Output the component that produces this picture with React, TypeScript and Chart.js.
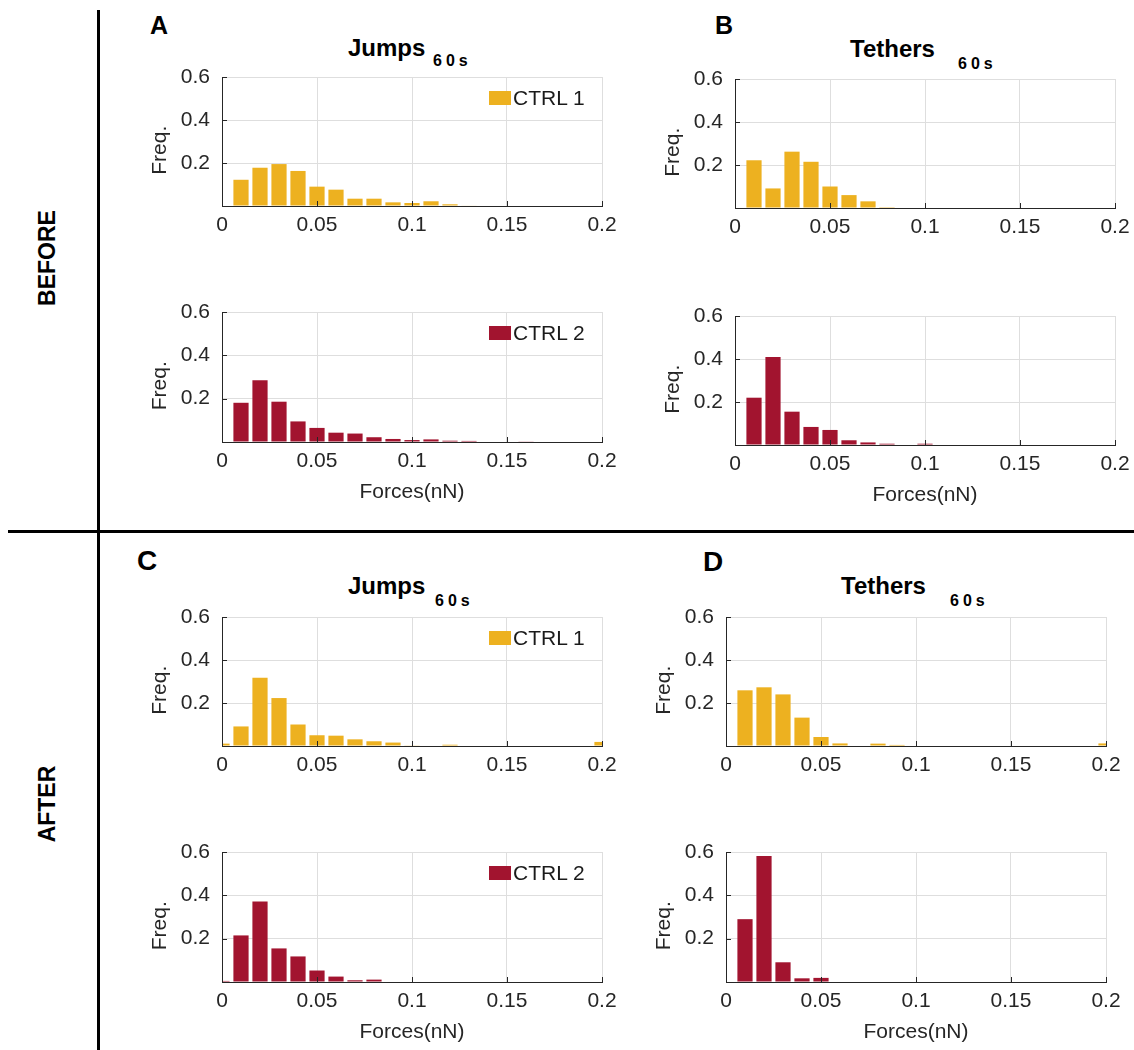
import React, { useEffect, useRef } from 'react';
import { Chart, registerables } from 'chart.js';

Chart.register(...registerables);

// ---------- data ----------
const forceBins = [0, 0.01, 0.02, 0.03, 0.04, 0.05, 0.06, 0.07, 0.08, 0.09, 0.1, 0.11, 0.12, 0.13, 0.14, 0.15, 0.16, 0.17, 0.18, 0.19, 0.2];
const xTickValues = [0, 0.05, 0.1, 0.15, 0.2];
const xTickLabels = ['0', '0.05', '0.1', '0.15', '0.2'];
const yTickValues = [0, 0.2, 0.4, 0.6];
const yTickLabels = ['', '0.2', '0.4', '0.6'];
const seriesNames = ['CTRL 1', 'CTRL 2'];

const jumpsBeforeCtrl1 = [0, 0.122, 0.178, 0.195, 0.163, 0.09, 0.076, 0.034, 0.034, 0.017, 0.014, 0.022, 0.008, 0.002, 0, 0, 0, 0, 0, 0, 0];
const jumpsBeforeCtrl2 = [0, 0.181, 0.285, 0.186, 0.095, 0.065, 0.043, 0.039, 0.022, 0.014, 0.009, 0.012, 0.006, 0.005, 0, 0, 0.003, 0, 0, 0, 0];
const tethersBeforeCtrl1 = [0, 0.222, 0.091, 0.262, 0.215, 0.1, 0.06, 0.031, 0.004, 0, 0, 0, 0, 0, 0, 0, 0, 0, 0, 0, 0];
const tethersBeforeCtrl2 = [0, 0.22, 0.409, 0.155, 0.084, 0.07, 0.022, 0.012, 0.006, 0, 0.006, 0, 0, 0, 0, 0, 0, 0, 0, 0, 0];
const jumpsAfterCtrl1 = [0.011, 0.091, 0.318, 0.223, 0.1, 0.05, 0.048, 0.031, 0.022, 0.016, 0.003, 0, 0.006, 0, 0, 0, 0, 0, 0, 0, 0.019];
const jumpsAfterCtrl2 = [0.005, 0.215, 0.371, 0.155, 0.118, 0.053, 0.025, 0.008, 0.011, 0, 0, 0, 0, 0, 0, 0, 0, 0, 0, 0, 0];
const tethersAfterCtrl1 = [0, 0.259, 0.273, 0.24, 0.132, 0.042, 0.012, 0, 0.011, 0.005, 0, 0, 0, 0, 0, 0, 0, 0, 0, 0, 0.012];
const tethersAfterCtrl2 = [0, 0.29, 0.581, 0.091, 0.017, 0.019, 0, 0, 0, 0, 0, 0, 0, 0, 0, 0, 0, 0, 0, 0, 0];

// ---------- styles ----------
const FONT = '"Liberation Sans", Arial, Helvetica, sans-serif';
const GOLD = '#EDB120';
const CRIMSON = '#A2142F';
const TXT = '#262626';
const GRID = '#dedede';
const AXIS = '#262626';

const Y_W = 74;
const PAD_T = 26;
const PAD_R = 24;

const inwardTicks = {
  id: 'inwardTicks',
  afterDraw(chart: any) {
    const { ctx, chartArea: a, scales } = chart;
    ctx.save();
    ctx.strokeStyle = AXIS;
    ctx.lineWidth = 1;
    ctx.beginPath();
    scales.x.ticks.forEach((t: any) => {
      const px = Math.round(scales.x.getPixelForValue(t.value)) + 0.5;
      ctx.moveTo(px, a.bottom);
      ctx.lineTo(px, a.bottom - 5);
    });
    scales.y.ticks.forEach((t: any) => {
      const py = Math.round(scales.y.getPixelForValue(t.value)) + 0.5;
      ctx.moveTo(a.left, py);
      ctx.lineTo(a.left + 5, py);
    });
    ctx.stroke();
    ctx.restore();
  },
};

type PanelProps = {
  plotLeft: number;
  plotTop: number;
  plotWidth: number;
  plotHeight: number;
  values: number[];
  color: string;
  name: string;
  showXTitle: boolean;
  showLegend: boolean;
};

function HistPanel(p: PanelProps) {
  const ref = useRef<HTMLCanvasElement>(null);
  const xH = p.showXTitle ? 66 : 34;
  const width = Y_W + p.plotWidth + PAD_R;
  const height = PAD_T + p.plotHeight + xH;

  useEffect(() => {
    if (!ref.current) return;
    const chart = new Chart(ref.current, {
      type: 'bar',
      data: {
        datasets: [
          {
            label: p.name,
            data: forceBins.map((x, i) => ({ x, y: p.values[i] })),
            backgroundColor: p.color,
            borderWidth: 0,
            barPercentage: 0.8,
            categoryPercentage: 1,
          } as any,
        ],
      },
      options: {
        animation: false,
        responsive: false,
        maintainAspectRatio: false,
        layout: { padding: { top: PAD_T, right: PAD_R, left: 0, bottom: 0 } },
        plugins: { legend: { display: false }, tooltip: { enabled: false } },
        scales: {
          x: {
            type: 'linear',
            min: 0,
            max: 0.2,
            offset: false,
            grid: { color: GRID, lineWidth: 1, drawTicks: false, offset: false } as any,
            border: { color: AXIS, width: 1 },
            ticks: {
              padding: 7,
              autoSkip: false,
              maxRotation: 0,
              color: TXT,
              font: { family: FONT, size: 21 },
              callback: (_v: any, i: number) => xTickLabels[i] ?? '',
            },
            afterBuildTicks: (s: any) => {
              s.ticks = xTickValues.map((v) => ({ value: v }));
            },
            afterFit: (s: any) => {
              s.height = xH;
            },
            title: {
              display: p.showXTitle,
              text: 'Forces(nN)',
              color: TXT,
              font: { family: FONT, size: 21 },
              padding: { top: 0, bottom: 3 },
            },
          },
          y: {
            type: 'linear',
            min: 0,
            max: 0.6,
            grid: { color: GRID, lineWidth: 1, drawTicks: false },
            border: { color: AXIS, width: 1 },
            ticks: {
              padding: 12,
              color: TXT,
              font: { family: FONT, size: 21 },
              callback: (_v: any, i: number) => yTickLabels[i] ?? '',
            },
            afterBuildTicks: (s: any) => {
              s.ticks = yTickValues.map((v) => ({ value: v }));
            },
            afterFit: (s: any) => {
              s.width = Y_W;
            },
            title: {
              display: true,
              text: 'Freq.   ',
              color: TXT,
              font: { family: FONT, size: 21 },
              padding: { top: 0, bottom: 0 },
            },
          },
        },
      } as any,
      plugins: [inwardTicks],
    });
    return () => chart.destroy();
  }, []);

  return (
    <>
      <canvas
        ref={ref}
        width={width}
        height={height}
        style={{
          position: 'absolute',
          left: p.plotLeft - Y_W,
          top: p.plotTop - PAD_T,
          width,
          height,
        }}
      />
      {p.showLegend && (
        <>
          <div
            style={{
              position: 'absolute',
              left: p.plotLeft + 267,
              top: p.plotTop + 14,
              width: 22,
              height: 14,
              background: p.color,
            }}
          />
          <Txt x={p.plotLeft + 291} baseline={p.plotTop + 28} size={21} color="#1a1a1a">
            {p.name}
          </Txt>
        </>
      )}
    </>
  );
}

function Txt(props: { x: number; baseline: number; size: number; bold?: boolean; color?: string; spacing?: number; children: React.ReactNode }) {
  const { x, baseline, size, bold, color, spacing, children } = props;
  return (
    <div
      style={{
        position: 'absolute',
        left: x,
        top: baseline - 0.8465 * size,
        fontSize: size,
        lineHeight: `${size}px`,
        fontWeight: bold ? 'bold' : 'normal',
        color: color || '#000',
        letterSpacing: spacing ? spacing : undefined,
        whiteSpace: 'nowrap',
        fontFamily: FONT,
      }}
    >
      {children}
    </div>
  );
}

function SideLabel(props: { cx: number; cy: number; text: string }) {
  return (
    <div
      style={{
        position: 'absolute',
        left: props.cx,
        top: props.cy,
        transform: 'translate(-50%, -50%) rotate(-90deg)',
        fontFamily: FONT,
        fontWeight: 'bold',
        fontSize: 23,
        lineHeight: '23px',
        whiteSpace: 'nowrap',
        color: '#000',
      }}
    >
      {props.text}
    </div>
  );
}

export default function App() {
  return (
    <div
      style={{
        position: 'absolute',
        left: 0,
        top: 0,
        width: 1134,
        height: 1050,
        background: '#fff',
        overflow: 'hidden',
        fontFamily: FONT,
      }}
    >
      {/* dividers */}
      <div style={{ position: 'absolute', left: 97, top: 10, width: 3, height: 1040, background: '#000' }} />
      <div style={{ position: 'absolute', left: 8, top: 530, width: 1126, height: 3, background: '#000' }} />

      <SideLabel cx={47} cy={258} text="BEFORE" />
      <SideLabel cx={47} cy={804} text="AFTER" />

      {/* panel letters */}
      <Txt x={150} baseline={34} size={25} bold>A</Txt>
      <Txt x={715} baseline={34} size={25} bold>B</Txt>
      <Txt x={137} baseline={571} size={28} bold>C</Txt>
      <Txt x={703} baseline={572} size={28} bold>D</Txt>

      {/* titles */}
      <Txt x={348} baseline={56} size={24} bold>Jumps</Txt>
      <Txt x={433} baseline={67} size={16} bold spacing={4}>60s</Txt>
      <Txt x={850} baseline={57} size={24} bold>Tethers</Txt>
      <Txt x={958} baseline={70} size={16} bold spacing={4}>60s</Txt>
      <Txt x={348} baseline={594} size={24} bold>Jumps</Txt>
      <Txt x={435} baseline={607} size={16} bold spacing={4}>60s</Txt>
      <Txt x={841} baseline={594} size={24} bold>Tethers</Txt>
      <Txt x={950} baseline={607} size={16} bold spacing={4}>60s</Txt>

      {/* BEFORE */}
      <HistPanel plotLeft={222} plotTop={77} plotWidth={380} plotHeight={129} values={jumpsBeforeCtrl1} color={GOLD} name={seriesNames[0]} showXTitle={false} showLegend />
      <HistPanel plotLeft={222} plotTop={312} plotWidth={380} plotHeight={130} values={jumpsBeforeCtrl2} color={CRIMSON} name={seriesNames[1]} showXTitle showLegend />
      <HistPanel plotLeft={735} plotTop={79} plotWidth={380} plotHeight={129} values={tethersBeforeCtrl1} color={GOLD} name={seriesNames[0]} showXTitle={false} showLegend={false} />
      <HistPanel plotLeft={735} plotTop={316} plotWidth={380} plotHeight={129} values={tethersBeforeCtrl2} color={CRIMSON} name={seriesNames[1]} showXTitle showLegend={false} />

      {/* AFTER */}
      <HistPanel plotLeft={222} plotTop={617} plotWidth={380} plotHeight={129} values={jumpsAfterCtrl1} color={GOLD} name={seriesNames[0]} showXTitle={false} showLegend />
      <HistPanel plotLeft={222} plotTop={852} plotWidth={380} plotHeight={130} values={jumpsAfterCtrl2} color={CRIMSON} name={seriesNames[1]} showXTitle showLegend />
      <HistPanel plotLeft={726} plotTop={617} plotWidth={380} plotHeight={129} values={tethersAfterCtrl1} color={GOLD} name={seriesNames[0]} showXTitle={false} showLegend={false} />
      <HistPanel plotLeft={726} plotTop={852} plotWidth={380} plotHeight={130} values={tethersAfterCtrl2} color={CRIMSON} name={seriesNames[1]} showXTitle showLegend={false} />
    </div>
  );
}
